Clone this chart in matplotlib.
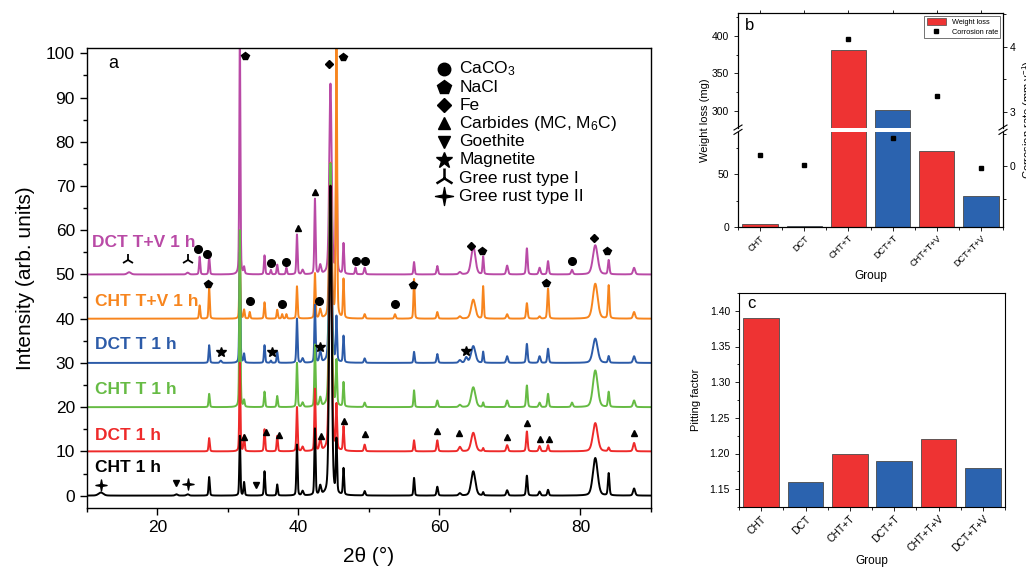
import numpy as np
import matplotlib
matplotlib.use("Agg")
import matplotlib.pyplot as plt
from matplotlib.ticker import MultipleLocator, FixedLocator, FormatStrFormatter
from matplotlib.patches import Patch
from matplotlib.lines import Line2D
from matplotlib.path import Path

plt.rcParams['font.family'] = ['Liberation Sans', 'DejaVu Sans']
plt.rcParams['mathtext.fontset'] = 'custom'
plt.rcParams['mathtext.rm'] = 'Liberation Sans'
plt.rcParams['mathtext.it'] = 'Liberation Sans:italic'
plt.rcParams['mathtext.bf'] = 'Liberation Sans:bold'

# ---------------- XRD peak table (2theta, FWHM) ----------------
peak_pos = [12.0, 16.0, 22.7, 24.3, 26.0, 27.35, 29.0, 31.7, 32.3, 33.1,
            35.2, 36.1, 37.0, 37.7, 38.3, 39.8, 40.6, 42.35, 43.1, 44.55,
            45.4, 46.4, 48.1, 49.4, 53.7, 56.4, 59.7, 62.9, 63.8, 64.8,
            66.2, 69.6, 72.4, 74.2, 75.4, 78.8, 82.1, 84.0, 87.6]
peak_fwhm = [0.8, 0.6, 0.4, 0.4, 0.2, 0.2, 0.3, 0.18, 0.2, 0.2,
             0.2, 0.2, 0.2, 0.2, 0.2, 0.2, 0.3, 0.2, 0.3, 0.4,
             0.2, 0.2, 0.2, 0.25, 0.25, 0.2, 0.25, 0.4, 0.4, 0.7,
             0.2, 0.3, 0.25, 0.3, 0.25, 0.3, 0.8, 0.25, 0.35]

# peak heights of each pattern (same order as peak_pos)
h_cht_1h = [0.7, 0, 0.3, 0.3, 0, 4.2, 0, 13.5, 3.0, 0,
            5.5, 0, 2.5, 0, 0, 11.5, 1.0, 15.0, 2.0, 70.0,
            12.0, 6.0, 0, 1.0, 0, 4.0, 2.0, 0.5, 0, 5.5,
            0.7, 1.2, 4.5, 0.9, 1.3, 0, 8.5, 5.0, 1.6]
h_dct_1h = [0, 0, 0, 0, 0, 3.0, 0, 20.0, 3.5, 0,
            5.0, 0, 3.5, 0, 0, 10.0, 1.0, 14.0, 2.5, 60.0,
            10.0, 5.5, 0, 1.5, 0, 2.5, 2.5, 1.0, 0, 4.2,
            0.7, 1.4, 4.5, 1.2, 1.4, 0, 6.4, 0.8, 1.9]
h_cht_t_1h = [0, 0, 0, 0, 0, 3.0, 0, 40.0, 1.5, 0,
              3.5, 0, 2.5, 0, 0, 10.0, 1.0, 14.0, 2.0, 55.0,
              10.0, 5.5, 0, 1.0, 0, 3.8, 1.5, 0.5, 0, 4.5,
              1.0, 1.5, 4.9, 1.0, 3.0, 1.0, 8.3, 3.4, 1.5]
h_dct_t_1h = [0, 0, 0, 0, 0, 4.0, 0.5, 25.0, 2.0, 0,
              4.0, 0.5, 2.5, 0, 0, 10.0, 1.0, 13.0, 2.5, 45.0,
              10.0, 6.0, 0, 1.0, 0, 2.5, 2.0, 0.6, 1.2, 3.8,
              2.5, 1.5, 4.3, 1.5, 3.2, 0, 5.5, 1.5, 1.5]
h_cht_tv_1h = [0, 0, 0, 0, 3.0, 7.0, 0, 15.0, 2.0, 1.5,
               3.7, 0, 2.0, 1.0, 1.0, 7.3, 0, 10.2, 2.0, 35.0,
               65.0, 8.8, 0, 1.0, 1.0, 9.0, 1.5, 0.5, 0, 4.3,
               7.3, 1.0, 3.5, 0.5, 6.8, 0, 7.9, 7.5, 1.5]
h_dct_tv_1h = [0, 0.5, 0, 0.4, 4.0, 4.0, 0, 55.0, 1.5, 0,
               4.3, 1.0, 2.2, 0, 1.5, 9.0, 1.0, 17.0, 2.0, 43.0,
               30.0, 6.9, 1.5, 1.5, 0, 2.8, 1.9, 0.5, 0, 6.4,
               4.0, 2.0, 5.9, 1.5, 3.0, 1.0, 6.6, 3.2, 1.5]

series_names = ['CHT 1 h', 'DCT 1 h', 'CHT T 1 h', 'DCT T 1 h',
                'CHT T+V 1 h', 'DCT T+V 1 h']
series_heights = [h_cht_1h, h_dct_1h, h_cht_t_1h, h_dct_t_1h,
                  h_cht_tv_1h, h_dct_tv_1h]
series_offsets = [0, 10, 20, 30, 40, 50]
series_colors = ['#000000', '#EE2A2A', '#66BB44', '#2C5BA8',
                 '#F7851E', '#B94AA6']

# phase identification marks (2theta, intensity)
caco3_x = [25.8, 27.0, 36.1, 38.3, 48.1, 49.4, 78.8, 33.1, 37.7, 42.9, 53.7]
caco3_y = [55.7, 54.6, 52.7, 52.9, 53.1, 53.1, 53.1, 44.1, 43.3, 44.1, 43.3]
nacl_x = [32.4, 46.3, 66.1, 83.8, 27.2, 56.3, 75.1]
nacl_y = [99.4, 99.1, 55.4, 55.2, 47.8, 47.6, 48.1]
fe_x = [44.4, 64.5, 81.9]
fe_y = [97.6, 56.4, 58.2]
carb_x = [39.9, 42.4, 32.3, 35.4, 37.2, 43.2, 46.4, 49.4, 59.7, 62.8,
          69.6, 72.4, 74.2, 75.6, 87.6]
carb_y = [60.4, 68.7, 13.2, 14.4, 13.7, 13.5, 16.9, 14.0, 14.5, 14.2,
          13.3, 16.5, 12.7, 12.7, 14.1]
goeth_x = [22.7, 34.0]
goeth_y = [2.8, 2.4]
magn_x = [29.0, 36.2, 43.0, 63.7]
magn_y = [32.5, 32.5, 33.5, 32.8]
gr1_x = [15.9, 24.4]
gr1_y = [53.3, 53.3]
gr2_x = [12.0, 24.3]
gr2_y = [2.4, 2.6]

# ---------------- corrosion data ----------------
groups = ['CHT', 'DCT', 'CHT+T', 'DCT+T', 'CHT+T+V', 'DCT+T+V']
weight_loss = [3, 1, 381, 302, 72, 29]
corrosion_rate = [0.17, 0.01, 4.12, 0.43, 3.25, -0.03]
pitting_factor = [1.39, 1.16, 1.20, 1.19, 1.22, 1.18]

RED = '#EE3333'
BLUE = '#2B63AF'
bar_colors = [RED, BLUE, RED, BLUE, RED, BLUE]

# ---------------- figure ----------------
W, H = 1026, 569
fig = plt.figure(figsize=(W / 100, H / 100), dpi=100)


def box(x0, y0, x1, y1):
    return [x0 / W, 1 - y1 / H, (x1 - x0) / W, (y1 - y0) / H]


def profile(x, pos, fwhm, heights, eta=0.3):
    y = np.zeros_like(x)
    for p, w, h in zip(pos, fwhm, heights):
        if h <= 0:
            continue
        d = (x - p) / (w / 2.0)
        y += h * (eta / (1 + d ** 2) + (1 - eta) * np.exp(-np.log(2) * d ** 2))
    return y


# four-pointed star marker
_ang = np.deg2rad(np.arange(0, 360, 45) + 90)
_rad = np.array([1.0, 0.22] * 4)
_verts = np.column_stack([_rad * np.cos(_ang), _rad * np.sin(_ang)])
star4 = Path(np.vstack([_verts, _verts[:1]]), closed=True)

# ---------- panel a ----------
ax = fig.add_axes(box(86.8, 48, 651, 508))
tt = np.linspace(10, 90, 6401)
for i in reversed(range(6)):
    yy = series_offsets[i] + profile(tt, peak_pos, peak_fwhm, series_heights[i])
    ax.plot(tt, yy, color=series_colors[i], lw=1.4, zorder=2 + (5 - i) * 0.1)

label_pos = [(11.2, 6.3), (11.2, 13.6), (11.2, 24.0), (11.2, 34.2),
             (11.2, 43.8), (10.8, 57.3)]
for (lx, ly), name, c in zip(label_pos, series_names, series_colors):
    ax.text(lx, ly, name, color=c, fontsize=12.5, fontweight='bold',
            ha='left', va='center')

mk = dict(color='k', ls='none', zorder=5)
ax.plot(caco3_x, caco3_y, marker='o', ms=5.5, **mk)
ax.plot(nacl_x, nacl_y, marker='p', ms=6, **mk)
ax.plot(fe_x, fe_y, marker='D', ms=3.8, **mk)
ax.plot(carb_x, carb_y, marker='^', ms=5, **mk)
ax.plot(goeth_x, goeth_y, marker='v', ms=5, **mk)
ax.plot(magn_x, magn_y, marker='*', ms=7, **mk)
ax.plot(gr1_x, gr1_y, marker='2', ms=9, mew=1.3, **mk)
ax.plot(gr2_x, gr2_y, marker=star4, ms=8, **mk)

# phase key
key_items = [('o', 9, {}, 'CaCO$_3$'), ('p', 10, {}, 'NaCl'),
             ('D', 7, {}, 'Fe'), ('^', 9, {}, 'Carbides (MC, M$_6$C)'),
             ('v', 9, {}, 'Goethite'), ('*', 12, {}, 'Magnetite'),
             ('2', 14, {'mew': 1.8}, 'Gree rust type I'),
             (star4, 13, {}, 'Gree rust type II')]
key_y0 = (495.5 - 69) / 4.42
key_dy = 18.2 / 4.42
for k, (m, s, extra, lab) in enumerate(key_items):
    yk = key_y0 - k * key_dy
    ax.plot([10 + (444 - 86.8) / 7.05], [yk], marker=m, ms=s, color='k',
            ls='none', clip_on=False, **extra)
    ax.text(10 + (459 - 86.8) / 7.05, yk, lab, fontsize=12.5, ha='left',
            va='center')

ax.text(13.1, 97.7, 'a', fontsize=13, ha='left', va='center')

ax.set_xlim(10, 90)
ax.set_ylim(-2.8, 101.2)
ax.xaxis.set_major_locator(FixedLocator([20, 40, 60, 80]))
ax.xaxis.set_minor_locator(MultipleLocator(10))
ax.yaxis.set_major_locator(MultipleLocator(10))
ax.yaxis.set_minor_locator(MultipleLocator(5))
ax.tick_params(which='both', direction='out', labelsize=12.5, width=1)
ax.tick_params(which='major', length=5)
ax.tick_params(which='minor', length=3)
for s in ax.spines.values():
    s.set_linewidth(1.0)
ax.set_xlabel('2θ (°)', fontsize=15, labelpad=9)
ax.set_ylabel('Intensity (arb. units)', fontsize=15, labelpad=8)

# ---------- panel b (broken axis) ----------
xb0, xb1 = 738, 1003
ax_bu = fig.add_axes(box(xb0, 13, xb1, 127.7))
ax_bl = fig.add_axes(box(xb0, 131.7, xb1, 227))
cats = np.arange(len(groups))
for a in (ax_bu, ax_bl):
    a.bar(cats, weight_loss, width=0.8, color=bar_colors,
          edgecolor='#4a4a4a', linewidth=0.6, zorder=2)
    a.set_xlim(-0.5, 5.5)
    for s in a.spines.values():
        s.set_linewidth(0.8)
ax_bu.set_ylim(278, 430)
ax_bl.set_ylim(0, 90.4)
ax_bu.spines['bottom'].set_visible(False)
ax_bl.spines['top'].set_visible(False)
ax_bu.tick_params(axis='x', which='both', bottom=False, labelbottom=False,
                  top=True, direction='out', length=2.5, width=0.6)
ax_bu.set_xticks(cats)
ax_bu.yaxis.set_major_locator(FixedLocator([300, 350, 400]))
ax_bu.yaxis.set_minor_locator(MultipleLocator(25))
ax_bl.yaxis.set_major_locator(FixedLocator([0, 50]))
ax_bl.yaxis.set_minor_locator(MultipleLocator(25))
ax_bl.set_xticks(cats)
ax_bl.set_xticklabels(groups, rotation=45, ha='right',
                      rotation_mode='anchor', fontsize=6.5)
ax_bl.set_xticks(np.arange(-0.5, 6, 1.0), minor=True)
for a in (ax_bu, ax_bl):
    a.tick_params(axis='y', which='both', direction='out', labelsize=7.5,
                  width=0.6)
    a.tick_params(axis='y', which='major', length=3)
    a.tick_params(axis='y', which='minor', length=1.8)
ax_bl.tick_params(axis='x', which='major', direction='out', length=3,
                  width=0.6, pad=2)
ax_bl.tick_params(axis='x', which='minor', direction='out', length=1.8,
                  width=0.6)
ax_bl.set_xlabel('Group', fontsize=8.5, labelpad=1)

rb_u = ax_bu.twinx()
rb_l = ax_bl.twinx()
rb_u.set_ylim(2.758, 4.523)
rb_l.set_ylim(-0.938, 0.528)
for a in (rb_u, rb_l):
    a.plot(cats, corrosion_rate, 's', color='k', ms=3.2, zorder=5)
    a.tick_params(axis='y', which='both', direction='out', labelsize=7.5,
                  width=0.6, pad=2)
    a.tick_params(axis='y', which='major', length=3)
    a.tick_params(axis='y', which='minor', length=1.8)
    for s in a.spines.values():
        s.set_linewidth(0.8)
rb_u.spines['bottom'].set_visible(False)
rb_l.spines['top'].set_visible(False)
rb_u.yaxis.set_major_locator(FixedLocator([3, 4]))
rb_u.yaxis.set_minor_locator(MultipleLocator(0.5))
rb_l.yaxis.set_major_locator(FixedLocator([0]))
rb_l.yaxis.set_minor_locator(MultipleLocator(0.5))

fig.text(705 / W, 1 - 120 / H, 'Weight loss (mg)', rotation=90,
         ha='center', va='center', fontsize=8)
fig.text(1020 / W, 1 - 120 / H, 'Corrosion rate (mm y$^{-1}$)',
         rotation=90, ha='left', va='center', fontsize=8)
fig.text(745 / W, 1 - 25 / H, 'b', fontsize=12, ha='left', va='center')

# break marks
for xp in (xb0, xb1):
    for dy in (-2.2, 2.2):
        yc = 129.7 + dy
        fig.add_artist(Line2D([(xp - 4) / W, (xp + 4) / W],
                              [1 - (yc + 2.5) / H, 1 - (yc - 2.5) / H],
                              color='k', lw=0.8))

leg_handles = [Patch(facecolor=RED, edgecolor='#4a4a4a', linewidth=0.5),
               Line2D([], [], marker='s', color='k', ls='none', ms=3)]
leg = ax_bu.legend(leg_handles, ['Weight loss', 'Corrosion rate'],
                   loc='upper right', fontsize=5.3, frameon=True,
                   fancybox=False, edgecolor='#333333', borderpad=0.3,
                   handlelength=2.6, handleheight=1.0, labelspacing=0.3,
                   borderaxespad=0.4)
leg.get_frame().set_linewidth(0.6)
leg.set_zorder(10)

# ---------- panel c ----------
ax_c = fig.add_axes(box(739, 293, 1005, 507))
ax_c.bar(cats, pitting_factor, width=0.8, color=bar_colors,
         edgecolor='#4a4a4a', linewidth=0.6, zorder=2)
ax_c.set_xlim(-0.5, 5.5)
ax_c.set_ylim(1.125, 1.425)
ax_c.yaxis.set_major_locator(MultipleLocator(0.05))
ax_c.yaxis.set_minor_locator(MultipleLocator(0.025))
ax_c.yaxis.set_major_formatter(FormatStrFormatter('%.2f'))
ax_c.set_xticks(cats)
ax_c.set_xticklabels(groups, rotation=45, ha='right',
                     rotation_mode='anchor', fontsize=6.5)
ax_c.set_xticks(np.arange(-0.5, 6, 1.0), minor=True)
ax_c.tick_params(which='both', direction='out', width=0.6, labelsize=7.5)
ax_c.tick_params(which='major', length=3)
ax_c.tick_params(which='minor', length=1.8)
ax_c.tick_params(axis='x', pad=2)
for s in ax_c.spines.values():
    s.set_linewidth(0.8)
ax_c.set_ylabel('Pitting factor', fontsize=8, labelpad=6)
ax_c.set_xlabel('Group', fontsize=8.5, labelpad=1)
ax_c.text(0.03, 0.95, 'c', transform=ax_c.transAxes, fontsize=12,
          ha='left', va='center')

fig.savefig('out.png', dpi=100)
